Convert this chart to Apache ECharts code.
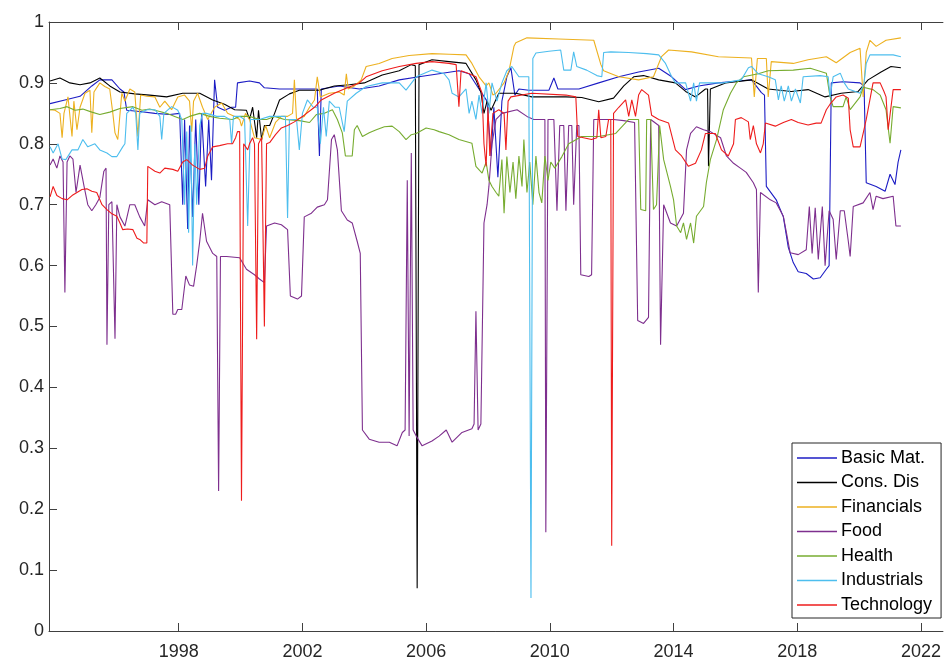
<!DOCTYPE html>
<html>
<head>
<meta charset="utf-8">
<script src="https://cdn.jsdelivr.net/npm/echarts@6/dist/echarts.min.js"></script>
<style>
html,body{margin:0;padding:0;background:#fff;}
#chart{width:944px;height:661px;}
</style>
</head>
<body>
<div id="chart"></div>
<script>
// ---- data: [decimal year, value] ----
const seriesNames = ["Basic Mat.", "Cons. Dis", "Financials", "Food", "Health", "Industrials", "Technology"];
const xTickYears = [1998, 2002, 2006, 2010, 2014, 2018, 2022];

const basicMat = [
[1993.84,.866],[1994.32,.872],[1994.81,.878],[1995.19,.895],[1995.45,.905],[1995.84,.905],[1996.10,.89],[1996.23,.885],[1996.32,.855],[1996.74,.853],[1997.23,.85],[1997.71,.848],[1998.03,.85],[1998.13,.70],[1998.19,.84],[1998.29,.66],[1998.35,.83],[1998.45,.68],[1998.55,.84],[1998.65,.70],[1998.74,.85],[1998.87,.73],[1998.97,.84],[1999.06,.74],[1999.16,.905],[1999.26,.86],[1999.48,.855],[1999.71,.86],[1999.84,.86],[1999.90,.90],[2000.29,.903],[2000.61,.90],[2000.77,.892],[2001.26,.89],[2001.90,.89],[2002.48,.89],[2002.55,.78],[2002.61,.89],[2003.19,.895],[2003.84,.89],[2004.48,.895],[2005.13,.905],[2005.77,.91],[2006.42,.915],[2007.06,.92],[2007.39,.915],[2007.71,.89],[2007.97,.87],[2008.10,.78],[2008.19,.86],[2008.32,.745],[2008.45,.87],[2008.61,.91],[2008.74,.925],[2008.87,.88],[2009.00,.89],[2009.32,.888],[2009.97,.888],[2010.13,.908],[2010.26,.89],[2010.94,.89],[2011.58,.90],[2012.23,.91],[2012.87,.918],[2013.52,.924],[2013.94,.91],[2014.39,.889],[2014.81,.895],[2015.45,.90],[2016.10,.903],[2016.52,.905],[2016.84,.884],[2016.94,.88],[2017.00,.73],[2017.32,.708],[2017.55,.68],[2017.71,.63],[2017.87,.605],[2018.03,.59],[2018.29,.587],[2018.52,.578],[2018.74,.58],[2018.94,.594],[2019.03,.60],[2019.10,.90],[2019.48,.902],[2020.03,.90],[2020.16,.895],[2020.23,.736],[2020.55,.73],[2020.84,.722],[2021.00,.75],[2021.16,.733],[2021.26,.77],[2021.35,.79]
];

const consDis = [
[1993.84,.903],[1994.16,.908],[1994.48,.90],[1994.81,.897],[1995.13,.90],[1995.45,.908],[1995.77,.895],[1996.10,.885],[1996.58,.882],[1997.06,.88],[1997.61,.877],[1998.13,.883],[1998.68,.883],[1999.10,.872],[1999.48,.865],[1999.81,.856],[2000.19,.855],[2000.29,.84],[2000.39,.86],[2000.52,.81],[2000.58,.855],[2000.68,.807],[2000.77,.83],[2000.94,.83],[2001.10,.85],[2001.26,.872],[2001.58,.882],[2001.90,.888],[2002.55,.888],[2003.03,.895],[2003.52,.897],[2004.00,.90],[2004.58,.913],[2005.13,.92],[2005.52,.93],[2005.65,.928],[2005.71,.07],[2005.77,.93],[2006.19,.938],[2006.74,.935],[2007.29,.932],[2007.61,.905],[2007.77,.885],[2007.87,.85],[2007.97,.87],[2008.10,.855],[2008.35,.883],[2008.90,.883],[2009.42,.877],[2010.52,.877],[2011.03,.876],[2011.58,.869],[2012.06,.875],[2012.39,.895],[2012.71,.91],[2013.03,.912],[2013.52,.905],[2014.06,.90],[2014.39,.886],[2014.71,.877],[2015.03,.89],[2015.10,.89],[2015.13,.763],[2015.19,.89],[2015.68,.90],[2016.52,.905],[2017.06,.89],[2017.81,.886],[2018.35,.889],[2018.90,.877],[2019.42,.883],[2019.97,.886],[2020.29,.905],[2020.71,.918],[2021.03,.927],[2021.35,.925]
];

const financials = [
[1993.84,.856],[1994.00,.855],[1994.16,.85],[1994.23,.81],[1994.29,.85],[1994.42,.877],[1994.48,.88],[1994.55,.812],[1994.61,.87],[1994.71,.823],[1994.81,.86],[1994.97,.883],[1995.13,.888],[1995.19,.818],[1995.26,.885],[1995.45,.90],[1995.61,.894],[1995.77,.89],[1995.87,.85],[1995.94,.818],[1996.03,.807],[1996.16,.883],[1996.26,.87],[1996.42,.89],[1996.58,.885],[1996.68,.812],[1996.77,.88],[1996.97,.878],[1997.23,.877],[1997.39,.86],[1997.55,.87],[1997.77,.856],[1997.97,.877],[1998.19,.88],[1998.35,.87],[1998.42,.82],[1998.48,.87],[1998.61,.883],[1998.77,.86],[1998.94,.84],[1999.16,.86],[1999.39,.867],[1999.58,.85],[1999.81,.845],[1999.97,.84],[2000.03,.829],[2000.16,.85],[2000.29,.84],[2000.45,.81],[2000.68,.807],[2000.81,.83],[2000.94,.81],[2001.00,.807],[2001.13,.835],[2001.32,.845],[2001.52,.845],[2001.68,.85],[2001.74,.905],[2001.81,.84],[2002.06,.845],[2002.23,.86],[2002.39,.872],[2002.48,.91],[2002.58,.877],[2002.87,.883],[2003.19,.885],[2003.35,.88],[2003.42,.915],[2003.48,.89],[2003.68,.895],[2003.90,.905],[2004.06,.927],[2004.48,.932],[2004.90,.94],[2005.45,.945],[2006.19,.948],[2006.74,.947],[2007.29,.946],[2007.48,.932],[2007.71,.91],[2007.94,.895],[2008.03,.90],[2008.16,.88],[2008.26,.883],[2008.52,.90],[2008.68,.92],[2008.84,.96],[2008.90,.966],[2009.26,.974],[2010.29,.972],[2011.42,.97],[2011.65,.93],[2011.74,.92],[2012.23,.91],[2012.87,.905],[2013.35,.91],[2013.61,.943],[2013.84,.954],[2014.58,.951],[2015.45,.943],[2016.52,.941],[2016.61,.877],[2016.71,.94],[2017.00,.94],[2017.06,.877],[2017.16,.935],[2017.87,.932],[2018.35,.938],[2018.94,.943],[2019.26,.933],[2019.71,.95],[2020.03,.957],[2020.13,.877],[2020.23,.95],[2020.35,.97],[2020.55,.96],[2020.87,.97],[2021.35,.974]
];

const food = [
[1993.84,.765],[1993.94,.775],[1994.06,.76],[1994.16,.78],[1994.26,.77],[1994.32,.556],[1994.39,.77],[1994.48,.78],[1994.58,.775],[1994.68,.72],[1994.81,.765],[1994.94,.73],[1995.06,.70],[1995.19,.69],[1995.32,.70],[1995.45,.712],[1995.58,.755],[1995.65,.76],[1995.68,.47],[1995.74,.70],[1995.84,.705],[1995.94,.48],[1996.00,.70],[1996.10,.68],[1996.26,.665],[1996.42,.70],[1996.58,.70],[1996.74,.68],[1996.90,.665],[1997.00,.708],[1997.23,.70],[1997.45,.705],[1997.71,.70],[1997.77,.703],[1997.81,.52],[1997.90,.52],[1997.97,.528],[1998.10,.528],[1998.23,.583],[1998.35,.568],[1998.48,.566],[1998.58,.60],[1998.68,.64],[1998.77,.686],[1998.90,.64],[1999.10,.62],[1999.23,.615],[1999.29,.23],[1999.35,.615],[1999.55,.615],[1999.97,.613],[2000.19,.594],[2000.45,.585],[2000.61,.578],[2000.77,.572],[2000.84,.665],[2001.10,.67],[2001.32,.667],[2001.52,.659],[2001.61,.55],[2001.84,.545],[2001.97,.55],[2002.06,.68],[2002.29,.686],[2002.48,.696],[2002.71,.70],[2002.81,.708],[2002.94,.807],[2003.03,.815],[2003.13,.79],[2003.26,.69],[2003.45,.675],[2003.61,.67],[2003.77,.64],[2003.87,.62],[2003.94,.33],[2004.16,.315],[2004.48,.31],[2004.81,.31],[2005.06,.304],[2005.23,.326],[2005.32,.33],[2005.39,.74],[2005.45,.32],[2005.52,.785],[2005.58,.33],[2005.68,.32],[2005.87,.304],[2006.19,.312],[2006.42,.32],[2006.65,.33],[2006.84,.31],[2007.16,.326],[2007.48,.332],[2007.55,.34],[2007.61,.525],[2007.68,.33],[2007.77,.34],[2007.87,.67],[2007.97,.70],[2008.03,.73],[2008.13,.80],[2008.26,.84],[2008.45,.85],[2008.94,.856],[2009.26,.845],[2009.48,.84],[2009.84,.84],[2009.87,.162],[2009.94,.84],[2010.13,.84],[2010.23,.69],[2010.32,.83],[2010.45,.83],[2010.52,.69],[2010.61,.83],[2010.71,.83],[2010.77,.70],[2010.87,.83],[2010.94,.83],[2011.00,.585],[2011.26,.582],[2011.35,.585],[2011.42,.84],[2011.74,.84],[2012.06,.84],[2012.39,.838],[2012.74,.835],[2012.84,.51],[2013.03,.505],[2013.19,.515],[2013.26,.84],[2013.39,.835],[2013.52,.83],[2013.58,.47],[2013.68,.70],[2013.90,.67],[2014.10,.665],[2014.32,.686],[2014.42,.79],[2014.55,.817],[2014.74,.828],[2014.97,.823],[2015.19,.82],[2015.52,.81],[2015.71,.78],[2015.94,.768],[2016.16,.76],[2016.35,.753],[2016.58,.736],[2016.68,.725],[2016.74,.556],[2016.81,.72],[2017.13,.708],[2017.32,.703],[2017.55,.681],[2017.65,.654],[2017.77,.621],[2018.03,.618],[2018.29,.626],[2018.39,.697],[2018.48,.62],[2018.58,.695],[2018.68,.61],[2018.81,.697],[2018.90,.60],[2019.03,.69],[2019.16,.676],[2019.26,.61],[2019.39,.69],[2019.52,.69],[2019.65,.64],[2019.71,.615],[2019.81,.697],[2020.13,.703],[2020.35,.72],[2020.45,.692],[2020.55,.714],[2020.77,.71],[2021.10,.714],[2021.19,.665],[2021.35,.665]
];

const health = [
[1993.84,.856],[1994.16,.858],[1994.39,.861],[1994.65,.855],[1994.90,.857],[1995.19,.852],[1995.45,.848],[1995.77,.852],[1996.10,.858],[1996.52,.861],[1996.81,.855],[1997.06,.857],[1997.39,.853],[1997.61,.85],[1997.87,.845],[1998.13,.84],[1998.35,.845],[1998.68,.85],[1999.00,.845],[1999.32,.842],[1999.74,.84],[1999.97,.845],[2000.29,.845],[2000.61,.84],[2000.84,.84],[2001.10,.845],[2001.42,.84],[2001.90,.838],[2002.23,.835],[2002.45,.848],[2002.71,.85],[2002.97,.856],[2003.13,.84],[2003.29,.818],[2003.39,.78],[2003.61,.78],[2003.68,.823],[2003.77,.83],[2003.94,.812],[2004.16,.818],[2004.39,.823],[2004.65,.828],[2004.90,.829],[2005.13,.82],[2005.35,.807],[2005.52,.815],[2005.68,.817],[2006.00,.826],[2006.26,.823],[2006.42,.82],[2006.74,.815],[2007.06,.807],[2007.48,.801],[2007.61,.763],[2007.81,.752],[2007.94,.77],[2008.03,.74],[2008.13,.73],[2008.26,.72],[2008.35,.714],[2008.45,.774],[2008.52,.686],[2008.61,.779],[2008.71,.72],[2008.81,.77],[2008.90,.71],[2009.00,.78],[2009.10,.73],[2009.16,.807],[2009.26,.72],[2009.35,.77],[2009.45,.70],[2009.55,.78],[2009.65,.72],[2009.74,.703],[2009.84,.78],[2009.94,.74],[2010.03,.77],[2010.16,.76],[2010.39,.779],[2010.61,.80],[2011.03,.812],[2011.58,.812],[2012.13,.817],[2012.55,.84],[2012.87,.84],[2012.94,.692],[2013.10,.69],[2013.13,.84],[2013.26,.84],[2013.35,.692],[2013.45,.70],[2013.55,.83],[2013.68,.774],[2013.90,.73],[2014.00,.708],[2014.10,.665],[2014.23,.654],[2014.32,.67],[2014.42,.643],[2014.55,.67],[2014.65,.637],[2014.74,.681],[2014.97,.697],[2015.06,.736],[2015.19,.774],[2015.39,.807],[2015.61,.856],[2015.84,.883],[2016.03,.90],[2016.26,.91],[2016.74,.915],[2017.06,.92],[2017.87,.921],[2018.42,.924],[2018.94,.916],[2019.06,.877],[2019.16,.861],[2019.48,.861],[2019.58,.877],[2019.71,.856],[2020.03,.877],[2020.13,.893],[2020.45,.889],[2020.68,.88],[2020.87,.856],[2021.00,.801],[2021.10,.861],[2021.35,.859]
];

const industrials = [
[1993.84,.795],[1993.94,.785],[1994.10,.80],[1994.23,.775],[1994.35,.774],[1994.55,.79],[1994.74,.79],[1994.90,.807],[1995.06,.795],[1995.29,.80],[1995.45,.79],[1995.68,.785],[1995.84,.779],[1996.00,.779],[1996.19,.795],[1996.26,.80],[1996.32,.85],[1996.52,.86],[1996.61,.85],[1996.68,.79],[1996.74,.85],[1996.97,.856],[1997.23,.856],[1997.39,.845],[1997.45,.807],[1997.52,.85],[1997.77,.861],[1997.97,.855],[1998.10,.84],[1998.19,.70],[1998.26,.82],[1998.32,.654],[1998.39,.83],[1998.45,.60],[1998.52,.80],[1998.58,.70],[1998.68,.83],[1998.77,.85],[1998.90,.85],[1999.23,.845],[1999.48,.845],[1999.65,.84],[1999.71,.80],[1999.77,.845],[1999.97,.845],[2000.13,.84],[2000.23,.665],[2000.32,.84],[2000.61,.84],[2000.94,.845],[2001.26,.845],[2001.45,.845],[2001.52,.678],[2001.58,.84],[2001.81,.84],[2001.90,.79],[2002.00,.85],[2002.16,.872],[2002.35,.86],[2002.48,.86],[2002.58,.80],[2002.68,.86],[2002.77,.812],[2002.87,.87],[2003.06,.86],[2003.19,.86],[2003.35,.82],[2003.45,.87],[2003.74,.883],[2004.06,.894],[2004.58,.90],[2005.13,.90],[2005.35,.888],[2005.68,.91],[2006.19,.921],[2006.58,.915],[2006.74,.905],[2006.84,.883],[2007.06,.877],[2007.29,.89],[2007.39,.85],[2007.48,.87],[2007.61,.84],[2007.71,.88],[2007.81,.85],[2007.94,.90],[2008.03,.85],[2008.13,.90],[2008.29,.87],[2008.45,.90],[2008.61,.92],[2008.77,.927],[2009.00,.91],[2009.32,.91],[2009.39,.054],[2009.45,.94],[2009.55,.949],[2009.97,.952],[2010.35,.954],[2010.45,.921],[2010.68,.921],[2010.77,.951],[2010.87,.927],[2011.19,.921],[2011.52,.912],[2011.68,.91],[2011.74,.95],[2011.97,.951],[2012.55,.95],[2013.13,.948],[2013.52,.946],[2013.74,.932],[2013.94,.91],[2014.06,.90],[2014.39,.90],[2014.55,.87],[2014.65,.90],[2014.74,.87],[2014.84,.90],[2015.13,.90],[2015.61,.90],[2016.19,.905],[2016.42,.925],[2016.52,.927],[2016.74,.915],[2017.06,.91],[2017.29,.905],[2017.39,.872],[2017.48,.895],[2017.58,.87],[2017.71,.895],[2017.81,.87],[2017.94,.89],[2018.10,.867],[2018.19,.91],[2018.74,.912],[2019.00,.91],[2019.06,.877],[2019.16,.91],[2019.39,.916],[2019.52,.90],[2019.65,.89],[2020.03,.883],[2020.16,.90],[2020.23,.932],[2020.35,.946],[2021.10,.946],[2021.35,.943]
];

const technology = [
[1993.84,.713],[1993.94,.73],[1994.06,.715],[1994.23,.71],[1994.39,.708],[1994.55,.715],[1994.71,.72],[1994.87,.725],[1995.03,.726],[1995.19,.722],[1995.35,.72],[1995.52,.70],[1995.68,.692],[1995.84,.685],[1996.00,.681],[1996.10,.67],[1996.19,.659],[1996.35,.66],[1996.52,.659],[1996.65,.645],[1996.74,.643],[1996.87,.637],[1996.97,.637],[1997.00,.763],[1997.23,.755],[1997.39,.752],[1997.55,.76],[1997.81,.758],[1997.97,.755],[1998.13,.77],[1998.26,.774],[1998.45,.765],[1998.68,.758],[1998.84,.76],[1998.94,.78],[1999.10,.795],[1999.32,.797],[1999.58,.80],[1999.74,.80],[1999.84,.81],[1999.90,.82],[1999.97,.82],[2000.03,.214],[2000.10,.80],[2000.23,.79],[2000.29,.80],[2000.39,.81],[2000.45,.80],[2000.52,.479],[2000.58,.80],[2000.68,.81],[2000.77,.50],[2000.84,.80],[2000.94,.802],[2001.13,.815],[2001.32,.826],[2001.52,.83],[2001.74,.836],[2002.06,.847],[2002.39,.86],[2002.61,.872],[2003.03,.883],[2003.45,.892],[2003.84,.90],[2004.06,.91],[2004.58,.92],[2005.13,.927],[2005.68,.932],[2006.19,.935],[2006.74,.932],[2006.97,.93],[2007.03,.93],[2007.06,.861],[2007.13,.92],[2007.39,.915],[2007.61,.91],[2007.81,.883],[2007.87,.80],[2007.94,.763],[2008.00,.86],[2008.06,.78],[2008.16,.85],[2008.35,.856],[2008.52,.85],[2008.58,.79],[2008.65,.87],[2008.74,.877],[2009.42,.883],[2010.52,.88],[2010.84,.877],[2010.90,.812],[2011.35,.807],[2011.52,.81],[2011.58,.856],[2011.65,.81],[2011.81,.812],[2011.90,.84],[2011.97,.84],[2012.00,.14],[2012.06,.85],[2012.23,.86],[2012.45,.872],[2012.55,.845],[2012.65,.872],[2012.77,.845],[2012.87,.88],[2012.97,.889],[2013.19,.88],[2013.29,.847],[2013.52,.84],[2013.84,.834],[2014.06,.79],[2014.26,.78],[2014.48,.763],[2014.71,.768],[2014.90,.79],[2015.03,.817],[2015.35,.817],[2015.55,.79],[2015.77,.78],[2015.94,.80],[2016.00,.84],[2016.19,.843],[2016.42,.836],[2016.48,.807],[2016.58,.83],[2016.68,.80],[2016.81,.785],[2016.90,.80],[2016.97,.834],[2017.29,.829],[2017.55,.835],[2017.81,.84],[2018.03,.835],[2018.35,.831],[2018.61,.834],[2018.77,.834],[2018.94,.856],[2019.06,.865],[2019.26,.877],[2019.48,.88],[2019.65,.875],[2019.71,.823],[2019.81,.795],[2020.03,.795],[2020.13,.817],[2020.23,.84],[2020.45,.90],[2020.68,.90],[2020.81,.885],[2020.87,.877],[2020.94,.823],[2021.00,.82],[2021.10,.889],[2021.35,.889]
];

// ---- styling ----
const colors = ['#1c1cc4', '#000000', '#EDB120', '#7E2F8E', '#77AC30', '#4DBEEE', '#ee1c1c'];
const allData = [basicMat, consDis, financials, food, health, industrials, technology];
const axisColor = '#404040';
const fontFamily = '"Liberation Sans", Arial, Helvetica, sans-serif';

const chart = echarts.init(document.getElementById('chart'), null, {renderer: 'canvas'});

const xCommon = {
  type: 'value',
  min: 1993.806,
  max: 2022.71,
  splitLine: {show: false},
  axisLine: {show: true, onZero: false, lineStyle: {color: axisColor, width: 1}},
  axisTick: {show: true, inside: true, length: 8, customValues: xTickYears, lineStyle: {color: axisColor}},
};

const option = {
  backgroundColor: '#ffffff',
  animation: false,
  color: colors,
  grid: {left: 49, top: 22, right: -1, bottom: 29, containLabel: false},
  xAxis: [
    Object.assign({}, xCommon, {
      position: 'bottom',
      axisLabel: {show: true, customValues: xTickYears, formatter: v => String(Math.round(v)),
        fontSize: 18, color: '#262626', fontFamily: fontFamily, margin: 12}
    }),
    Object.assign({}, xCommon, {position: 'top', axisLabel: {show: false}})
  ],
  yAxis: [
    {
      type: 'value', min: 0, max: 1, interval: 0.1, position: 'left',
      splitLine: {show: false},
      axisLine: {show: true, onZero: false, lineStyle: {color: axisColor, width: 1}},
      axisTick: {show: true, inside: true, length: 8, lineStyle: {color: axisColor}},
      axisLabel: {fontSize: 18, color: '#262626', fontFamily: fontFamily, margin: 5,
        formatter: v => (Math.abs(v) < 1e-9 ? '0' : (Math.abs(v - 1) < 1e-9 ? '1' : v.toFixed(1)))}
    }
  ],
  legend: {
    show: true,
    orient: 'vertical',
    left: 792,
    top: 443,
    data: seriesNames,
    icon: 'rect',
    itemWidth: 40,
    itemHeight: 1.3,
    itemGap: 6.5,
    padding: [6, 9, 4, 5],
    borderColor: '#262626',
    borderWidth: 1,
    backgroundColor: '#ffffff',
    textStyle: {fontSize: 18, color: '#000', fontFamily: fontFamily, padding: [0, 0, 0, -1]}
  },
  series: seriesNames.map((name, i) => ({
    name: name,
    type: 'line',
    data: allData[i],
    showSymbol: false,
    symbol: 'none',
    clip: true,
    lineStyle: {width: 1.1, color: colors[i]},
    itemStyle: {color: colors[i]},
    emphasis: {disabled: true}
  }))
};

chart.setOption(option);
</script>
</body>
</html>
